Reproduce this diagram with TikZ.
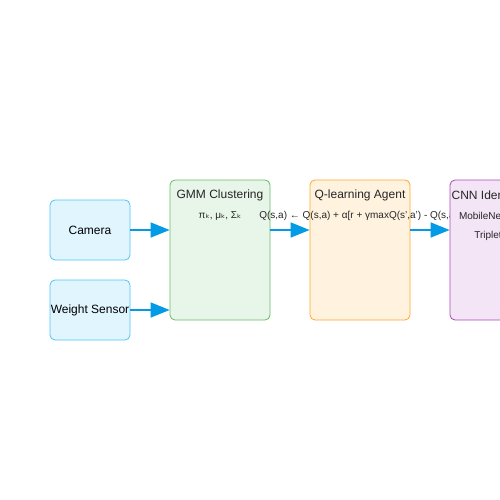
\documentclass[tikz,border=0pt]{standalone}
\usepackage{fontspec}
\setmainfont{Liberation Sans}
\newfontfamily\subfont{DejaVu Sans}
\usepackage{xcolor}
\usetikzlibrary{arrows.meta}

\begin{document}
\begin{tikzpicture}[x=1pt,y=-1pt,
  mybox/.style={draw,rounded corners=5pt,line width=0.8pt,inner sep=0pt,font=\fontsize{12}{14}\selectfont},
  mytitle/.style={inner sep=0pt,font=\fontsize{12}{14}\selectfont,text=black!85},
  mysub/.style={inner sep=0pt,font=\fontsize{10}{12}\selectfont,text=black!85},
  myarrow/.style={draw=arrowblue,line width=1.6pt,-{Triangle[length=19pt,width=15pt]}}]
\definecolor{sensorfill}{HTML}{E1F5FE}
\definecolor{sensordraw}{HTML}{4FC3F7}
\definecolor{gmmfill}{HTML}{E8F5E9}
\definecolor{gmmdraw}{HTML}{66BB6A}
\definecolor{qfill}{HTML}{FFF3E0}
\definecolor{qdraw}{HTML}{FFA726}
\definecolor{cnnfill}{HTML}{F3E5F5}
\definecolor{cnndraw}{HTML}{AB47BC}
\definecolor{arrowblue}{HTML}{039BE5}
\useasboundingbox (0,0) rectangle (500,500);
\clip (0,0) rectangle (500,500);
  % sensors
  \foreach \name/\txt/\ypos in {camera/Camera/230,weight/Weight Sensor/310}
  {  \node [mybox,fill=sensorfill,draw=sensordraw,minimum width=80pt,minimum height=60pt] (\name) at (90,\ypos) {\txt};}
  % stages
  \node [mybox,fill=gmmfill,draw=gmmdraw,minimum width=100pt,minimum height=140pt] (gmm) at (220,250) {};
  \node [mytitle] (gmmtitle) at (220,195) {GMM Clustering};
  \node [mysub] (gmmparams) at (220,216) {π{\subfont ₖ}, μ{\subfont ₖ}, Σ{\subfont ₖ}};
  \node [mybox,fill=qfill,draw=qdraw,minimum width=100pt,minimum height=140pt] (qagent) at (360,250) {};
  \node [mytitle] (qtitle) at (360,195) {Q-learning Agent};
  \node [mysub] (qrule) at (360,216) {Q(s,a) ← Q(s,a) + α[r + γmaxQ(s',a') - Q(s,a)]};
  \node [mybox,fill=cnnfill,draw=cnndraw,minimum width=100pt,minimum height=140pt] (cnn) at (500,250) {};
  \node [mytitle] (cnntitle) at (500,195) {CNN Identification};
  \node [mysub] (cnnnet) at (500,216) {MobileNetV2 + SE};
  \node [mysub] (cnnloss) at (500,236) {Triplet Loss};
  % connectors
  \draw [myarrow] (camera.east) -- (camera.east -| gmm.west);
  \draw [myarrow] (weight.east) -- (weight.east -| gmm.west);
  \draw [myarrow] (gmm.east |- camera) -- (qagent.west |- camera);
  \draw [myarrow] (qagent.east |- camera) -- (cnn.west |- camera);
\end{tikzpicture}
\end{document}
